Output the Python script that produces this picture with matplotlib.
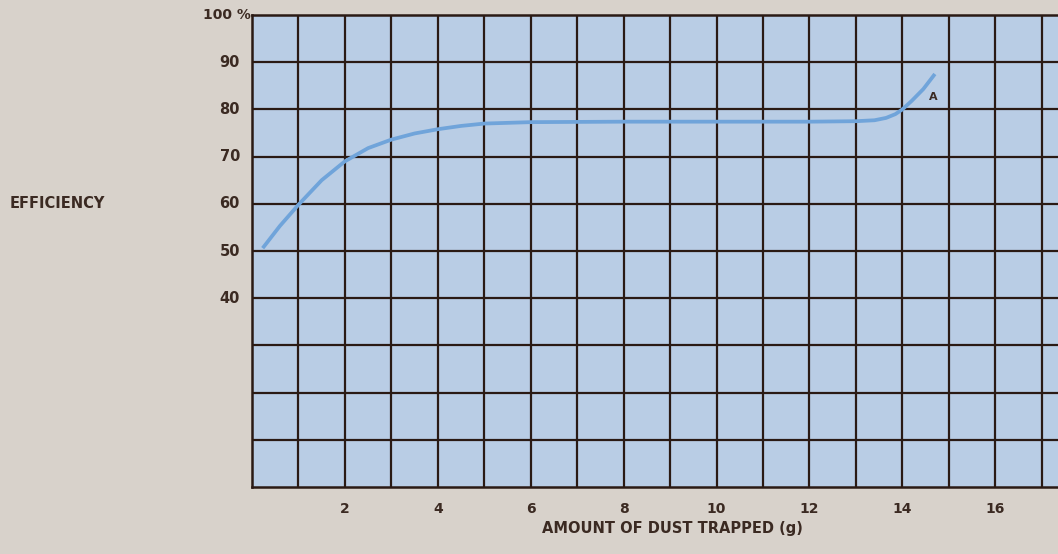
import numpy as np
import matplotlib
matplotlib.use("Agg")
import matplotlib.pyplot as plt
from matplotlib.transforms import offset_copy

# 曲线数据
dust_g = [0.23, 0.6, 1.0, 1.5, 2.0, 2.5, 3.0, 3.5, 4.0, 4.5, 5.0, 6.0, 8.0,
          10.0, 12.0, 13.0, 13.4, 13.65, 13.85, 14.0, 14.2, 14.45, 14.7]
efficiency = [50.6, 55.3, 59.8, 65.0, 69.0, 71.8, 73.6, 74.9, 75.8, 76.5,
              77.0, 77.3, 77.4, 77.4, 77.4, 77.5, 77.7, 78.2, 79.0, 80.0,
              81.8, 84.3, 87.5]

x_ticks = [2, 4, 6, 8, 10, 12, 14, 16]
y_label_vals = [40, 50, 60, 70, 80, 90]

bg = "#d8d2cb"
fill = "#b9cde5"
ink = "#2a1a14"
txt = "#3b2a22"
curve = "#70a4da"

fig = plt.figure(figsize=(10.58, 5.54), dpi=100, facecolor=bg)
ax = fig.add_axes([252 / 1058, 67 / 554, 1 - 252 / 1058, 472 / 554])
ax.set_facecolor(fill)
ax.set_xlim(0, 17.35)
ax.set_ylim(0, 100)

# 网格
for gx in range(1, 18):
    ax.axvline(gx, color=ink, lw=1.6, zorder=1)
for gy in range(10, 100, 10):
    ax.axhline(gy, color=ink, lw=1.6, zorder=1)

for side in ["left", "bottom", "top"]:
    ax.spines[side].set_color(ink)
    ax.spines[side].set_linewidth(1.8)
ax.spines["right"].set_visible(False)

ax.plot(dust_g, efficiency, color=curve, lw=2.7, solid_capstyle="butt",
        solid_joinstyle="round", zorder=3)
ax.text(14.66, 82.7, "A", color=txt, fontsize=8, fontweight="bold",
        ha="center", va="center", zorder=4)

ax.set_xticks(x_ticks)
ax.set_xticklabels([str(v) for v in x_ticks], color=txt, fontsize=10,
                   fontweight="bold")
ax.set_yticks([])
ax.tick_params(axis="x", length=0, pad=11)

# y轴标签
trans = offset_copy(ax.transData, fig=fig, x=-12, y=0, units="dots")
for v in y_label_vals:
    ax.text(0, v, str(v), transform=trans, ha="right", va="center",
            color=txt, fontsize=10.5, fontweight="bold", clip_on=False)
trans2 = offset_copy(ax.transData, fig=fig, x=-1, y=0, units="dots")
ax.text(0, 100, "100 %", transform=trans2, ha="right", va="center",
        color=txt, fontsize=10, fontweight="bold", clip_on=False)

fig.text(10 / 1058, 1 - 203 / 554, "EFFICIENCY", ha="left", va="center",
         color=txt, fontsize=10.5, fontweight="bold")
fig.text(672 / 1058, 1 - 529 / 554, "AMOUNT OF DUST TRAPPED (g)", ha="center",
         va="center", color=txt, fontsize=10.5, fontweight="bold")

fig.savefig("out.png", dpi=100, facecolor=bg)
